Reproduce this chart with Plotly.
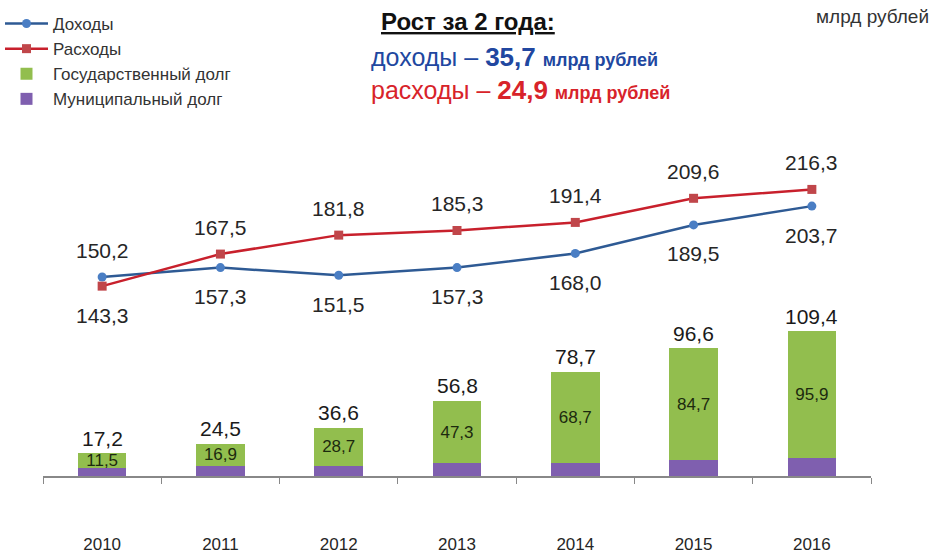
import plotly.graph_objects as go

years = ["2010", "2011", "2012", "2013", "2014", "2015", "2016"]
income = [150.2, 157.3, 151.5, 157.3, 168.0, 189.5, 203.7]
expense = [143.3, 167.5, 181.8, 185.3, 191.4, 209.6, 216.3]
state_debt = [11.5, 16.9, 28.7, 47.3, 68.7, 84.7, 95.9]
total_debt = [17.2, 24.5, 36.6, 56.8, 78.7, 96.6, 109.4]
muni_debt = [round(t - s, 1) for t, s in zip(total_debt, state_debt)]

def fmt(v):
    return f"{v:.1f}".replace(".", ",")

FONT = "Liberation Sans, Arial, sans-serif"

fig = go.Figure()

fig.add_trace(go.Bar(
    x=years, y=muni_debt, name="Муниципальный долг",
    marker=dict(color="#7F5FAF", line=dict(width=0)),
    width=0.41, legendgroup="m", legendrank=4, hoverinfo="skip",
))
fig.add_trace(go.Bar(
    x=years, y=state_debt, name="Государственный долг",
    marker=dict(color="#92BE4E", line=dict(width=0)),
    width=0.41, legendgroup="g", legendrank=3,
    text=[fmt(v) for v in state_debt], textposition="inside",
    insidetextanchor="middle", textangle=0,
    textfont=dict(family=FONT, size=17, color="#1c2a0e"),
    constraintext="none", hoverinfo="skip",
))
fig.add_trace(go.Scatter(
    x=years, y=income, name="Доходы", mode="lines+markers",
    line=dict(color="#2E5A94", width=2.5),
    marker=dict(symbol="circle", size=9, color="#4A7EC4"),
    legendgroup="i", legendrank=1,
))
fig.add_trace(go.Scatter(
    x=years, y=expense, name="Расходы", mode="lines+markers",
    line=dict(color="#C8202C", width=2.5),
    marker=dict(symbol="square", size=9, color="#C0464A"),
    legendgroup="e", legendrank=2,
))

annotations = []
for i, y in enumerate(years):
    annotations.append(dict(x=i, y=total_debt[i], text=fmt(total_debt[i]), showarrow=False,
                            yshift=15, font=dict(family=FONT, size=21, color="#1a1a1a")))
    inc_up = income[i] > expense[i]
    annotations.append(dict(x=i, y=income[i], text=fmt(income[i]), showarrow=False,
                            yshift=27 if inc_up else -29,
                            font=dict(family=FONT, size=21, color="#262626")))
    annotations.append(dict(x=i, y=expense[i], text=fmt(expense[i]), showarrow=False,
                            yshift=-29 if inc_up else 27,
                            font=dict(family=FONT, size=21, color="#262626")))

def py(px):
    return (476 - px) / 336.0

def pxx(px):
    return (px - 43) / 828.0

annotations += [
    dict(xref="paper", yref="paper", x=pxx(468), y=py(22),
         xanchor="center", yanchor="middle", showarrow=False,
         text="<b><u>Рост за 2 года:</u></b>",
         font=dict(family=FONT, size=24, color="#111111")),
    dict(xref="paper", yref="paper", x=pxx(369), y=py(57),
         xanchor="left", yanchor="middle", showarrow=False,
         text="доходы – <b><span style='font-size:26px'>35,7</span></b> <b><span style='font-size:18px'>млрд рублей</span></b>",
         font=dict(family=FONT, size=25, color="#2147A0")),
    dict(xref="paper", yref="paper", x=pxx(369), y=py(90),
         xanchor="left", yanchor="middle", showarrow=False,
         text="расходы – <b><span style='font-size:26px'>24,9</span></b> <b><span style='font-size:18px'>млрд рублей</span></b>",
         font=dict(family=FONT, size=25, color="#D8232A")),
    dict(xref="paper", yref="paper", x=pxx(872), y=py(17),
         xanchor="center", yanchor="middle", showarrow=False,
         text="млрд рублей",
         font=dict(family=FONT, size=19, color="#333333")),
]

fig.update_layout(
    width=940, height=554,
    barmode="stack",
    plot_bgcolor="white", paper_bgcolor="white",
    margin=dict(l=43, r=69, t=140, b=78, autoexpand=False),
    showlegend=True,
    legend=dict(x=0.0, y=1 - 6 / 554, xref="container", yref="container",
                xanchor="left", yanchor="top",
                font=dict(family=FONT, size=17, color="#333333"),
                tracegroupgap=0, traceorder="grouped",
                bgcolor="rgba(0,0,0,0)", itemwidth=43),
    annotations=annotations,
)
fig.update_xaxes(
    type="category", range=[-0.5, 6.5],
    showline=True, linecolor="#888888", linewidth=1.5,
    ticks="outside", tickson="boundaries", ticklen=6, tickcolor="#888888",
    tickfont=dict(family=FONT, size=17, color="#262626"),
    ticklabelstandoff=52,
    showgrid=False, zeroline=False, fixedrange=True,
)
fig.update_yaxes(
    range=[0, 253.6], visible=False, showgrid=False, zeroline=False,
)

fig.write_html("out.html", config={"displayModeBar": False},
               post_script="document.body.style.margin='0';")
